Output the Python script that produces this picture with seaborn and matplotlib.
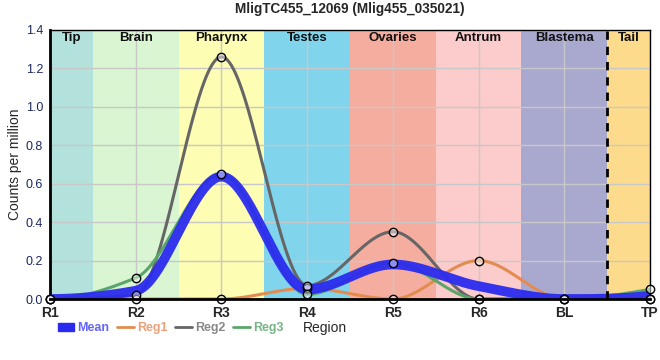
import numpy as np
import pandas as pd
import matplotlib
matplotlib.use("Agg")
import matplotlib.pyplot as plt
import seaborn as sns
from matplotlib.lines import Line2D
from matplotlib.patches import Patch

# === Data ===
regions = ["R1", "R2", "R3", "R4", "R5", "R6", "BL", "TP"]
reg1 = [0.0, 0.0, 0.0, 0.056, 0.0, 0.20, 0.0, 0.0]
reg2 = [0.0, 0.02, 1.26, 0.07, 0.35, 0.0, 0.0, 0.0]
reg3 = [0.0, 0.11, 0.65, 0.024, 0.19, 0.0, 0.0, 0.05]
mean = [0.0, 0.043, 0.637, 0.05, 0.18, 0.067, 0.0, 0.017]

band_names = ["Tip", "Brain", "Pharynx", "Testes", "Ovaries", "Antrum", "Blastema", "Tail"]
band_colors = ["#b3e2dd", "#d9f5d1", "#fdfdb4", "#80d4eb", "#f5ad9f", "#fccbcb", "#a9a9cf", "#fddb8c"]

series_colors = {"Mean": "#2b2bef", "Reg1": "#e38c4f", "Reg2": "#666666", "Reg3": "#5aa66a"}
legend_text_colors = {"Mean": "#6464ff", "Reg1": "#eba07a", "Reg2": "#888888", "Reg3": "#79b487"}


def pchip(x, y, xs):
    # monotone cubic (Fritsch-Carlson) for a smooth drawn curve
    x = np.asarray(x, float)
    y = np.asarray(y, float)
    h = np.diff(x)
    delta = np.diff(y) / h
    n = len(x)
    d = np.zeros(n)
    for k in range(1, n - 1):
        if delta[k - 1] * delta[k] > 0:
            w1 = 2 * h[k] + h[k - 1]
            w2 = h[k] + 2 * h[k - 1]
            d[k] = (w1 + w2) / (w1 / delta[k - 1] + w2 / delta[k])

    def end(h0, h1, d0, d1):
        s = ((2 * h0 + h1) * d0 - h0 * d1) / (h0 + h1)
        if np.sign(s) != np.sign(d0):
            return 0.0
        if np.sign(d0) != np.sign(d1) and abs(s) > 3 * abs(d0):
            return 3 * d0
        return s

    d[0] = end(h[0], h[1], delta[0], delta[1])
    d[-1] = end(h[-1], h[-2], delta[-1], delta[-2])
    idx = np.clip(np.searchsorted(x, xs) - 1, 0, n - 2)
    t = (xs - x[idx]) / h[idx]
    h00 = 2 * t**3 - 3 * t**2 + 1
    h10 = t**3 - 2 * t**2 + t
    h01 = -2 * t**3 + 3 * t**2
    h11 = t**3 - t**2
    return h00 * y[idx] + h10 * h[idx] * d[idx] + h01 * y[idx + 1] + h11 * h[idx] * d[idx + 1]


xpos = np.arange(len(regions))
xs = np.linspace(0, len(regions) - 1, 600)
rows = []
for name, vals in [("Reg1", reg1), ("Reg2", reg2), ("Reg3", reg3), ("Mean", mean)]:
    for xv, yv in zip(xs, pchip(xpos, vals, xs)):
        rows.append({"x": xv, "y": yv, "series": name})
curves = pd.DataFrame(rows)

points = pd.DataFrame({
    "x": np.concatenate([xpos] * 3),
    "y": np.concatenate([reg1, reg2, reg3]),
})

sns.set_style("white")
plt.rcParams["font.family"] = ["Liberation Sans", "DejaVu Sans"]

fig = plt.figure(figsize=(6.6, 3.6), dpi=100)
ax = fig.add_axes([0.0758, 0.1694, 0.9091, 0.7473])

# background region bands
edges = [0, 0.5, 1.5, 2.5, 3.5, 4.5, 5.5, 6.5, 7]
for i, (nm, col) in enumerate(zip(band_names, band_colors)):
    ax.axvspan(edges[i], edges[i + 1], color=col, lw=0, zorder=0)
    ax.text((edges[i] + edges[i + 1]) / 2, 1.387, nm, ha="center", va="top",
            fontsize=9.5, fontweight="bold", color="#111111", zorder=5)

ax.grid(True, color="#c8c8c8", lw=1, zorder=0.5)
ax.set_axisbelow(True)

for name in ["Reg1", "Reg2", "Reg3"]:
    sns.lineplot(data=curves[curves.series == name], x="x", y="y", color=series_colors[name],
                 lw=2.2, ax=ax, zorder=2, legend=False)
sns.lineplot(data=curves[curves.series == "Mean"], x="x", y="y", color=series_colors["Mean"],
             lw=7, alpha=0.95, ax=ax, zorder=3, legend=False, solid_capstyle="butt")
sns.scatterplot(data=points, x="x", y="y", s=36, facecolor=(1, 1, 1, 0.45),
                edgecolor="black", linewidth=1, ax=ax, zorder=4, clip_on=False)

ax.axvline(6.5, color="black", lw=2, ls=(0, (3, 2.5)), zorder=4)

ax.set_xlim(0, 7)
ax.set_ylim(0, 1.4)
ax.set_xticks(xpos)
ax.set_xticklabels(regions, fontweight="bold", fontsize=10)
ax.set_yticks(np.arange(0, 1.41, 0.2))
ax.set_yticklabels([f"{v:.1f}" for v in np.arange(0, 1.41, 0.2)], fontsize=9, color="#1c2860")
ax.tick_params(axis="x", length=4, width=1, color="black", pad=1)
ax.tick_params(axis="y", length=3, width=1, color="black", pad=2)
ax.set_xlabel("")
ax.set_ylabel("Counts per million", fontsize=10, labelpad=3)
for side in ["left", "bottom"]:
    ax.spines[side].set_linewidth(2)
    ax.spines[side].set_color("black")
for side in ["top", "right"]:
    ax.spines[side].set_linewidth(1)
    ax.spines[side].set_color("black")
ax.spines["bottom"].set_zorder(6)

ax.set_title("MligTC455_12069 (Mlig455_035021)", fontsize=9.8, fontweight="bold", pad=12)
fig.text(0.492, 0.088, "Region", ha="center", va="center", fontsize=10)

handles = [Patch(color=series_colors["Mean"])] + [
    Line2D([0], [0], color=series_colors[n], lw=2) for n in ["Reg1", "Reg2", "Reg3"]]
leg = fig.legend(handles, ["Mean", "Reg1", "Reg2", "Reg3"], loc="center left",
                 bbox_to_anchor=(0.074, 0.088), ncol=4, frameon=False, borderpad=0.2,
                 handlelength=1.35, handleheight=0.6, handletextpad=0.25, columnspacing=0.6,
                 prop={"weight": "bold", "size": 9})
for txt, n in zip(leg.get_texts(), ["Mean", "Reg1", "Reg2", "Reg3"]):
    txt.set_color(legend_text_colors[n])

fig.savefig("out.png", dpi=100)
